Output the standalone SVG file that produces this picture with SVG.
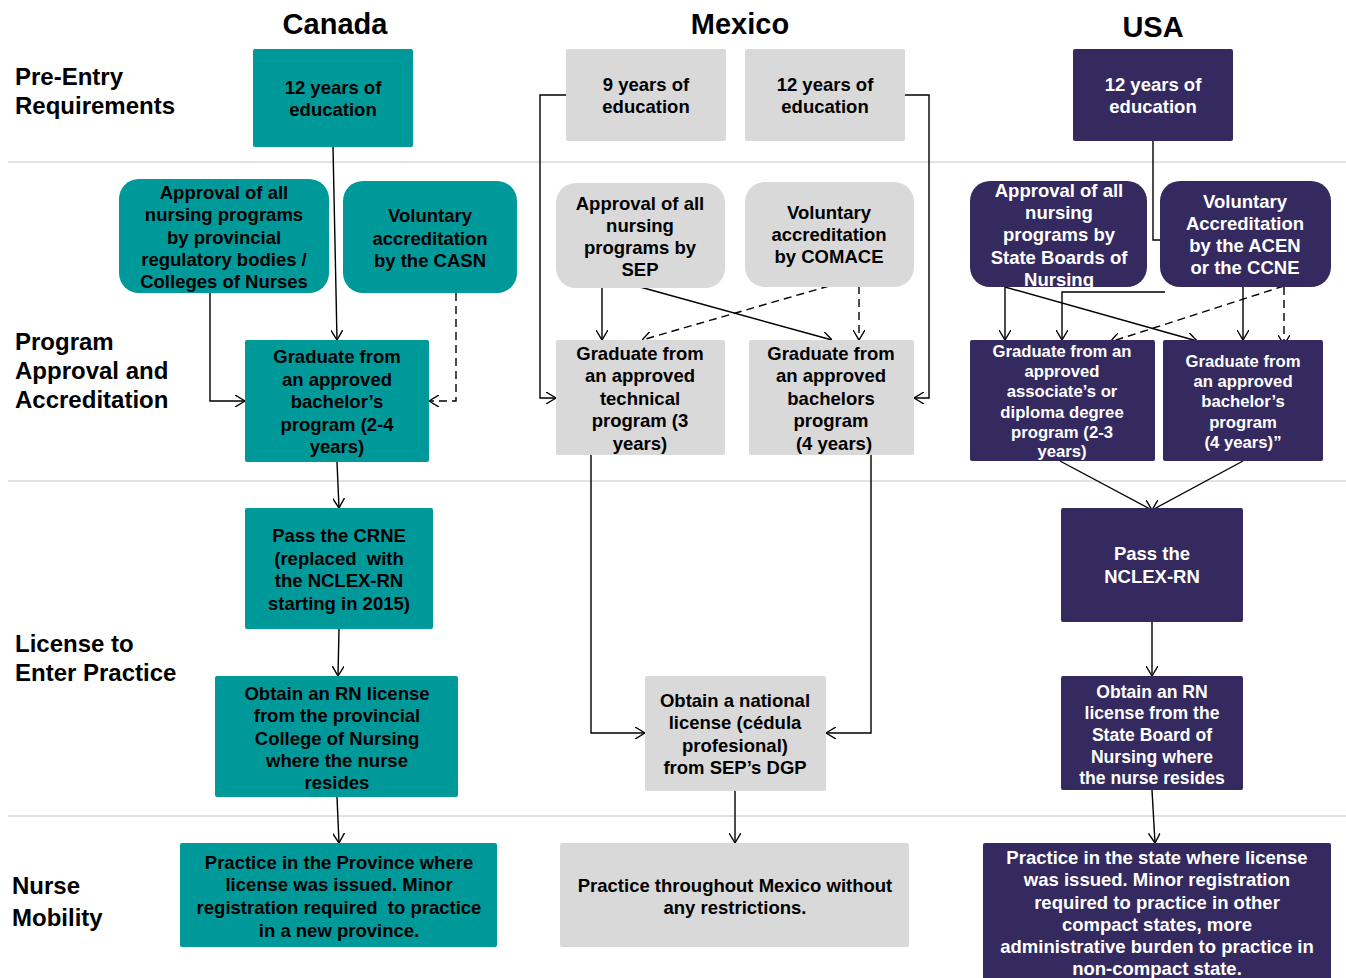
<svg xmlns="http://www.w3.org/2000/svg" width="1346" height="978" viewBox="0 0 1346 978">
<defs>
<marker id="arr" viewBox="0 0 10 12" refX="10" refY="6" markerWidth="10" markerHeight="12" markerUnits="userSpaceOnUse" orient="auto">
<path d="M0,0 L10,6 L0,12" fill="none" stroke="#000" stroke-width="1.4"/>
</marker>
</defs>
<style>
text{font-family:"Liberation Sans",Arial,sans-serif;font-weight:bold;}
.hdr{font-size:29px;text-anchor:middle;fill:#000;}
.row{font-size:24px;fill:#000;}
.t{font-size:18.5px;text-anchor:middle;fill:#000;}
.w{font-size:18.5px;text-anchor:middle;fill:#fff;}
.ws{font-size:16.7px;text-anchor:middle;fill:#fff;}
.wm{font-size:17.6px;text-anchor:middle;fill:#fff;}
.ca{fill:#00999a;}
.mx{fill:#d9d9d9;}
.us{fill:#352a5f;}
.sep{stroke:#d9d9d9;stroke-width:1.5;}
.c{fill:none;stroke:#000;stroke-width:1.4;marker-end:url(#arr);}
.d{fill:none;stroke:#000;stroke-width:1.4;stroke-dasharray:8,5;marker-end:url(#arr);}
</style>
<rect width="1346" height="978" fill="#fff"/>
<g id="separators">
<line class="sep" x1="8" y1="162" x2="1346" y2="162"/>
<line class="sep" x1="8" y1="481" x2="1346" y2="481"/>
<line class="sep" x1="8" y1="816" x2="1346" y2="816"/>
</g>
<g id="headers">
<text class="hdr" x="335" y="34">Canada</text>
<text class="hdr" x="740" y="34">Mexico</text>
<text class="hdr" x="1153" y="37">USA</text>
</g>
<g id="row-labels">
<text class="row" x="15" y="85">Pre-Entry</text>
<text class="row" x="15" y="114">Requirements</text>
<text class="row" x="15" y="350">Program</text>
<text class="row" x="15" y="379">Approval and</text>
<text class="row" x="15" y="408">Accreditation</text>
<text class="row" x="15" y="652">License to</text>
<text class="row" x="15" y="681">Enter Practice</text>
<text class="row" x="12" y="894">Nurse</text>
<text class="row" x="12" y="926">Mobility</text>
</g>
<g id="connectors">
<line class="c" x1="333" y1="147" x2="337" y2="340"/>
<polyline class="c" points="210,293 210,401 245,401"/>
<polyline class="d" points="456,293 456,401 429,401"/>
<line class="c" x1="337" y1="462" x2="339" y2="508"/>
<line class="c" x1="339" y1="629" x2="338" y2="676"/>
<line class="c" x1="337" y1="797" x2="339" y2="843"/>
<polyline class="c" points="566,95 540,95 540,398 556,398"/>
<polyline class="c" points="905,95 929,95 929,398 914,398"/>
<line class="c" x1="602" y1="288" x2="602" y2="340"/>
<line class="c" x1="640" y1="287" x2="832" y2="340"/>
<line class="d" x1="829" y1="286" x2="642" y2="340"/>
<line class="d" x1="859" y1="286" x2="859" y2="340"/>
<polyline class="c" points="591,455 591,733 645,733"/>
<polyline class="c" points="871,455 871,733 826,733"/>
<line class="c" x1="735" y1="791" x2="735" y2="843"/>
<polyline class="c" points="1153,141 1153,240 1243,240 1243,340"/>
<line class="c" x1="1005" y1="287" x2="1005" y2="340"/>
<polyline class="c" points="1165,292 1062,292 1062,340"/>
<line class="c" x1="1005" y1="287" x2="1197" y2="341"/>
<line class="d" x1="1284" y1="286" x2="1110" y2="342"/>
<line class="d" x1="1284" y1="287" x2="1284" y2="345"/>
<line class="c" x1="1060" y1="461" x2="1152" y2="510"/>
<line class="c" x1="1243" y1="461" x2="1152" y2="510"/>
<line class="c" x1="1152" y1="622" x2="1152" y2="676"/>
<line class="c" x1="1152" y1="790" x2="1155" y2="843"/>
</g>
<g id="ca-pre">
<rect class="ca" x="253" y="49" width="160" height="98" rx="2"/>
<text class="t" x="333" y="94">12 years of</text>
<text class="t" x="333" y="116">education</text>
</g>
<g id="ca-approval">
<rect class="ca" x="119" y="179" width="210" height="114" rx="20"/>
<text class="t" x="224" y="199">Approval of all</text>
<text class="t" x="224" y="221">nursing programs</text>
<text class="t" x="224" y="244">by provincial</text>
<text class="t" x="224" y="266">regulatory bodies /</text>
<text class="t" x="224" y="288">Colleges of Nurses</text>
</g>
<g id="ca-voluntary">
<rect class="ca" x="343" y="181" width="174" height="112" rx="20"/>
<text class="t" x="430" y="222">Voluntary</text>
<text class="t" x="430" y="245">accreditation</text>
<text class="t" x="430" y="267">by the CASN</text>
</g>
<g id="ca-graduate">
<rect class="ca" x="245" y="340" width="184" height="122" rx="2"/>
<text class="t" x="337" y="363">Graduate from</text>
<text class="t" x="337" y="386">an approved</text>
<text class="t" x="337" y="408">bachelor’s</text>
<text class="t" x="337" y="431">program (2-4</text>
<text class="t" x="337" y="453">years)</text>
</g>
<g id="ca-crne">
<rect class="ca" x="245" y="508" width="188" height="121" rx="2"/>
<text class="t" x="339" y="542">Pass the CRNE</text>
<text class="t" x="339" y="565" xml:space="preserve">(replaced  with</text>
<text class="t" x="339" y="587">the NCLEX-RN</text>
<text class="t" x="339" y="610">starting in 2015)</text>
</g>
<g id="ca-license">
<rect class="ca" x="215" y="676" width="243" height="121" rx="2"/>
<text class="t" x="337" y="700">Obtain an RN license</text>
<text class="t" x="337" y="722">from the provincial</text>
<text class="t" x="337" y="745">College of Nursing</text>
<text class="t" x="337" y="767">where the nurse</text>
<text class="t" x="337" y="789">resides</text>
</g>
<g id="ca-mobility">
<rect class="ca" x="180" y="843" width="317" height="104" rx="2"/>
<text class="t" x="339" y="869">Practice in the Province where</text>
<text class="t" x="339" y="891">license was issued. Minor</text>
<text class="t" x="339" y="914" xml:space="preserve">registration required  to practice</text>
<text class="t" x="339" y="937">in a new province.</text>
</g>
<g id="mx-pre9">
<rect class="mx" x="566" y="49" width="160" height="92" rx="2"/>
<text class="t" x="646" y="91">9 years of</text>
<text class="t" x="646" y="113">education</text>
</g>
<g id="mx-pre12">
<rect class="mx" x="745" y="49" width="160" height="92" rx="2"/>
<text class="t" x="825" y="91">12 years of</text>
<text class="t" x="825" y="113">education</text>
</g>
<g id="mx-approval">
<rect class="mx" x="556" y="183" width="169" height="105" rx="20"/>
<text class="t" x="640" y="210">Approval of all</text>
<text class="t" x="640" y="232">nursing</text>
<text class="t" x="640" y="254">programs by</text>
<text class="t" x="640" y="276">SEP</text>
</g>
<g id="mx-voluntary">
<rect class="mx" x="745" y="182" width="169" height="105" rx="20"/>
<text class="t" x="829" y="219">Voluntary</text>
<text class="t" x="829" y="241">accreditation</text>
<text class="t" x="829" y="263">by COMACE</text>
</g>
<g id="mx-technical">
<rect class="mx" x="556" y="340" width="169" height="115" rx="2"/>
<text class="t" x="640" y="360">Graduate from</text>
<text class="t" x="640" y="382">an approved</text>
<text class="t" x="640" y="405">technical</text>
<text class="t" x="640" y="427">program (3</text>
<text class="t" x="640" y="450">years)</text>
</g>
<g id="mx-bachelors">
<rect class="mx" x="749" y="340" width="165" height="115" rx="2"/>
<text class="t" x="831" y="360">Graduate from</text>
<text class="t" x="831" y="382">an approved</text>
<text class="t" x="831" y="405">bachelors</text>
<text class="t" x="831" y="427">program</text>
<text class="t" x="834" y="450">(4 years)</text>
</g>
<g id="mx-license">
<rect class="mx" x="645" y="676" width="181" height="115" rx="2"/>
<text class="t" x="735" y="707">Obtain a national</text>
<text class="t" x="735" y="729">license (cédula</text>
<text class="t" x="735" y="752">profesional)</text>
<text class="t" x="735" y="774">from SEP’s DGP</text>
</g>
<g id="mx-mobility">
<rect class="mx" x="560" y="843" width="349" height="104" rx="2"/>
<text class="t" x="735" y="892">Practice throughout Mexico without</text>
<text class="t" x="735" y="914">any restrictions.</text>
</g>
<g id="us-pre">
<rect class="us" x="1073" y="49" width="160" height="92" rx="2"/>
<text class="w" x="1153" y="91">12 years of</text>
<text class="w" x="1153" y="113">education</text>
</g>
<g id="us-approval">
<rect class="us" x="970" y="181" width="177" height="106" rx="20"/>
<text class="w" x="1059" y="197">Approval of all</text>
<text class="w" x="1059" y="219">nursing</text>
<text class="w" x="1059" y="241">programs by</text>
<text class="w" x="1059" y="264">State Boards of</text>
<text class="w" x="1059" y="286">Nursing</text>
</g>
<g id="us-voluntary">
<rect class="us" x="1160" y="181" width="171" height="106" rx="20"/>
<text class="w" x="1245" y="208">Voluntary</text>
<text class="w" x="1245" y="230">Accreditation</text>
<text class="w" x="1245" y="252">by the ACEN</text>
<text class="w" x="1245" y="274">or the CCNE</text>
</g>
<g id="us-associate">
<rect class="us" x="970" y="340" width="185" height="121" rx="2"/>
<text class="ws" x="1062" y="357">Graduate from an</text>
<text class="ws" x="1062" y="377">approved</text>
<text class="ws" x="1062" y="397">associate’s or</text>
<text class="ws" x="1062" y="418">diploma degree</text>
<text class="ws" x="1062" y="438">program (2-3</text>
<text class="ws" x="1062" y="457">years)</text>
</g>
<g id="us-bachelors">
<rect class="us" x="1163" y="340" width="160" height="121" rx="2"/>
<text class="ws" x="1243" y="367">Graduate from</text>
<text class="ws" x="1243" y="387">an approved</text>
<text class="ws" x="1243" y="407">bachelor’s</text>
<text class="ws" x="1243" y="428">program</text>
<text class="ws" x="1243" y="448">(4 years)”</text>
</g>
<g id="us-nclex">
<rect class="us" x="1061" y="508" width="182" height="114" rx="2"/>
<text class="w" x="1152" y="560">Pass the</text>
<text class="w" x="1152" y="583">NCLEX-RN</text>
</g>
<g id="us-license">
<rect class="us" x="1061" y="676" width="182" height="114" rx="2"/>
<text class="wm" x="1152" y="698">Obtain an RN</text>
<text class="wm" x="1152" y="719">license from the</text>
<text class="wm" x="1152" y="741">State Board of</text>
<text class="wm" x="1152" y="763">Nursing where</text>
<text class="wm" x="1152" y="784">the nurse resides</text>
</g>
<g id="us-mobility">
<rect class="us" x="983" y="843" width="348" height="140" rx="2"/>
<text class="w" x="1157" y="864">Practice in the state where license</text>
<text class="w" x="1157" y="886">was issued. Minor registration</text>
<text class="w" x="1157" y="909">required to practice in other</text>
<text class="w" x="1157" y="931">compact states, more</text>
<text class="w" x="1157" y="953">administrative burden to practice in</text>
<text class="w" x="1157" y="975">non-compact state.</text>
</g>
</svg>
